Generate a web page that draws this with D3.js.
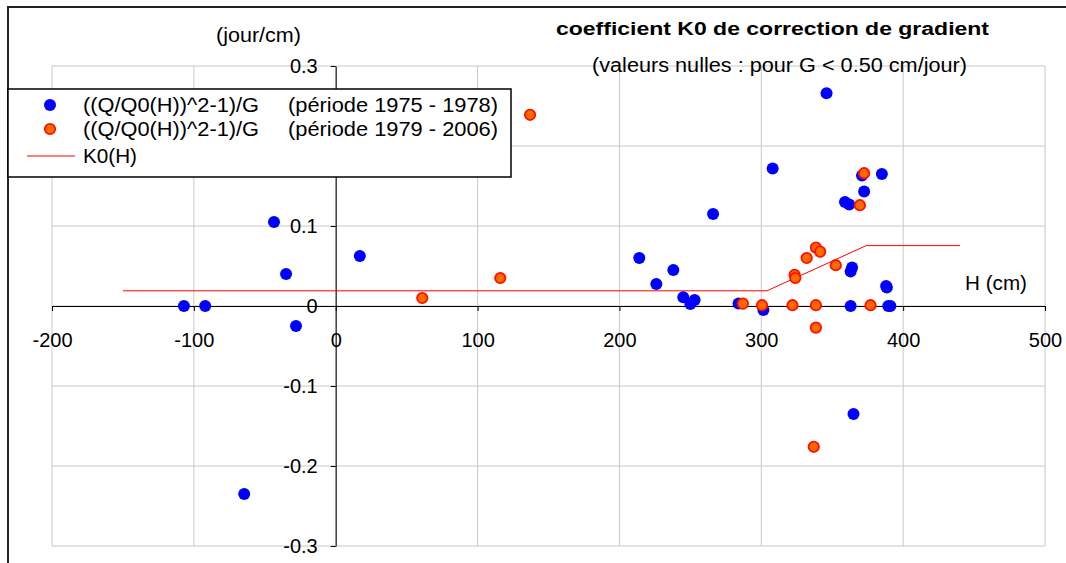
<!DOCTYPE html>
<html>
<head>
<meta charset="utf-8">
<script src="https://cdn.jsdelivr.net/npm/d3@7"></script>
<style>
  body { margin: 0; background: #fff; }
  svg { display: block; font-family: "Liberation Sans", Arial, sans-serif; }
</style>
</head>
<body>
<script>
// series 1 : periode 1975 - 1978  [H (cm), valeur (jour/cm)]
var serie1975 = [
  [-107, 0], [-92, 0], [-43.5, 0.105], [-35, 0.04], [-28, -0.025], [-64.5, -0.235],
  [17, 0.0625], [214, 0.06], [226, 0.0275], [238, 0.045], [245, 0.011], [250, 0.0025],
  [253, 0.0075], [266, 0.115], [308, 0.172], [284, 0.003], [301.5, -0.005], [346, 0.266],
  [359, 0.13], [362, 0.127], [371, 0.163], [372.5, 0.143], [385, 0.165], [364, 0.048],
  [363, 0.043], [388, 0.025], [388.5, 0.023], [363, 0], [389.5, 0], [391, 0], [365, -0.135]
];
// series 2 : periode 1979 - 2006
var serie1979 = [
  [137, 0.239], [116, 0.035], [61, 0.01], [287, 0.003], [300.5, 0.001], [322, 0.001],
  [338.5, 0.001], [377, 0.001], [323.5, 0.039], [324, 0.035], [332, 0.06], [338.5, 0.073],
  [341.5, 0.068], [352.5, 0.051], [369.5, 0.126], [372.5, 0.166], [338.5, -0.027], [337, -0.176]
];
// K0(H)
var k0H = [-150, 304, 374, 440];
var k0Val = [0.019, 0.019, 0.0755, 0.0755];

var xTicks = [-200, -100, 0, 100, 200, 300, 400, 500];
var yTicks = [-0.3, -0.2, -0.1, 0, 0.1, 0.2, 0.3];

var w = 1066, h = 563;
var svg = d3.select("body").append("svg").attr("width", w).attr("height", h);

var x = d3.scaleLinear().domain([-200, 500]).range([52, 1045]);
var y = d3.scaleLinear().domain([-0.3, 0.3]).range([546, 66]);

// frame
svg.append("path").attr("d", "M8,563 L8,7 L1066,7")
  .attr("fill", "none").attr("stroke", "#222").attr("stroke-width", 2);

// grid
svg.append("g").selectAll("line").data(xTicks).enter().append("line")
  .attr("x1", function(d) { return x(d); }).attr("x2", function(d) { return x(d); })
  .attr("y1", y(0.3)).attr("y2", y(-0.3))
  .attr("stroke", "#c8c8c8").attr("stroke-width", 1);
svg.append("g").selectAll("line").data(yTicks).enter().append("line")
  .attr("x1", x(-200)).attr("x2", x(500))
  .attr("y1", function(d) { return y(d); }).attr("y2", function(d) { return y(d); })
  .attr("stroke", "#c8c8c8").attr("stroke-width", 1);

// axes (hyphen minus like the original, 0.2 label sits under the legend)
var xAxis = d3.axisBottom(x).tickValues(xTicks).tickSizeInner(5).tickSizeOuter(0)
  .tickPadding(22).tickFormat(function(d) { return String(d); });
var gx = svg.append("g").attr("transform", "translate(0," + y(0) + ")").call(xAxis);
var yAxis = d3.axisLeft(y).tickValues(yTicks).tickSizeInner(5).tickSizeOuter(0)
  .tickPadding(13).tickFormat(function(d) {
    if (d === 0.2) return "";
    return d === 0 ? "0" : d.toFixed(1);
  });
var gy = svg.append("g").attr("transform", "translate(" + x(0) + ",0)").call(yAxis);
[gx, gy].forEach(function(g) {
  g.select(".domain").attr("stroke", "#000");
  g.selectAll(".tick line").attr("stroke", "#000");
  g.selectAll("text").attr("font-size", 20).attr("fill", "#000")
    .attr("font-family", "'Liberation Sans', Arial, sans-serif");
});

// K0 line
var line = d3.line().x(function(d) { return x(d[0]); }).y(function(d) { return y(d[1]); });
svg.append("path")
  .datum(k0H.map(function(d, i) { return [d, k0Val[i]]; }))
  .attr("d", line).attr("fill", "none").attr("stroke", "#ff0000").attr("stroke-width", 1);

// points
svg.append("g").selectAll("circle").data(serie1975).enter().append("circle")
  .attr("cx", function(d) { return x(d[0]); })
  .attr("cy", function(d) { return y(d[1]); })
  .attr("r", 6).attr("fill", "#0000ff");
svg.append("g").selectAll("circle").data(serie1979).enter().append("circle")
  .attr("cx", function(d) { return x(d[0]); })
  .attr("cy", function(d) { return y(d[1]); })
  .attr("r", 5.2).attr("fill", "#ff6a00").attr("stroke", "#ff1000").attr("stroke-width", 1.8);

// titles
svg.append("text").text("coefficient K0 de correction de gradient")
  .attr("x", 556).attr("y", 35).attr("font-size", 18).attr("font-weight", "bold")
  .attr("textLength", 433).attr("lengthAdjust", "spacingAndGlyphs");
svg.append("text").text("(valeurs nulles : pour G < 0.50 cm/jour)")
  .attr("x", 592).attr("y", 72).attr("font-size", 20)
  .attr("textLength", 375).attr("lengthAdjust", "spacingAndGlyphs");
svg.append("text").text("(jour/cm)")
  .attr("x", 216).attr("y", 42).attr("font-size", 20)
  .attr("textLength", 85).attr("lengthAdjust", "spacingAndGlyphs");
svg.append("text").text("H (cm)")
  .attr("x", 965).attr("y", 290).attr("font-size", 20)
  .attr("textLength", 62).attr("lengthAdjust", "spacingAndGlyphs");

// legend
var leg = svg.append("g");
leg.append("rect").attr("x", 8).attr("y", 89).attr("width", 503).attr("height", 88)
  .attr("fill", "#fff").attr("stroke", "#000").attr("stroke-width", 1.5);
leg.append("circle").attr("cx", 50).attr("cy", 105).attr("r", 6).attr("fill", "#0000ff");
leg.append("circle").attr("cx", 50).attr("cy", 129).attr("r", 5.2)
  .attr("fill", "#ff6a00").attr("stroke", "#ff1000").attr("stroke-width", 1.8);
leg.append("line").attr("x1", 27).attr("x2", 75).attr("y1", 156).attr("y2", 156)
  .attr("stroke", "#ff0000").attr("stroke-width", 1);
var legendRows = [
  ["((Q/Q0(H))^2-1)/G", "(période 1975 - 1978)", 112],
  ["((Q/Q0(H))^2-1)/G", "(période 1979 - 2006)", 136]
];
legendRows.forEach(function(r) {
  leg.append("text").text(r[0]).attr("x", 83).attr("y", r[2]).attr("font-size", 20)
    .attr("textLength", 176).attr("lengthAdjust", "spacingAndGlyphs");
  leg.append("text").text(r[1]).attr("x", 288).attr("y", r[2]).attr("font-size", 20)
    .attr("textLength", 210).attr("lengthAdjust", "spacingAndGlyphs");
});
leg.append("text").text("K0(H)").attr("x", 83).attr("y", 163).attr("font-size", 20)
  .attr("textLength", 54).attr("lengthAdjust", "spacingAndGlyphs");
</script>
</body>
</html>
